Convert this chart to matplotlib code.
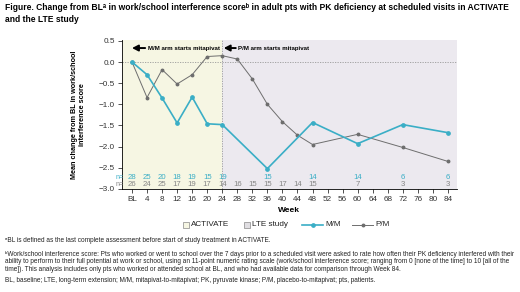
import matplotlib
matplotlib.use("Agg")
import matplotlib.pyplot as plt
from matplotlib.patches import Rectangle
from matplotlib.lines import Line2D

plt.rcParams['font.family'] = ['Liberation Sans', 'DejaVu Sans']

# data
weeks = [0, 4, 8, 12, 16, 20, 24, 28, 32, 36, 40, 44, 48, 52, 56, 60, 64, 68, 72, 76, 80, 84]
week_labels = ['BL'] + [str(w) for w in weeks[1:]]

mm_weeks = [0, 4, 8, 12, 16, 20, 24, 36, 48, 60, 72, 84]
mm_vals = [0, -0.30, -0.85, -1.44, -0.83, -1.46, -1.48, -2.52, -1.43, -1.93, -1.48, -1.67]
mm_n = [28, 25, 20, 18, 19, 15, 19, 15, 14, 14, 6, 6]

pm_weeks = [0, 4, 8, 12, 16, 20, 24, 28, 32, 36, 40, 44, 48, 60, 72, 84]
pm_vals = [0, -0.84, -0.18, -0.52, -0.30, 0.13, 0.15, 0.07, -0.40, -1.00, -1.41, -1.73, -1.95, -1.71, -2.02, -2.35]
pm_n = [26, 24, 25, 17, 19, 17, 14, 16, 15, 15, 17, 14, 15, 7, 3, 3]

c_mm = '#3aaec6'
c_pm = '#6e6e6e'
c_act = '#f6f6e3'
c_lte = '#ece9ef'
W, H = 520, 292

fig = plt.figure(figsize=(5.2, 2.92), dpi=100)
ax = fig.add_axes([0.234, 0.353, 0.644, 0.510])

ax.set_xlim(-2.74, 86.3)
ax.set_ylim(-3.0, 0.52)
ax.axvspan(-2.74, 24, color=c_act, zorder=0, lw=0)
ax.axvspan(24, 86.3, color=c_lte, zorder=0, lw=0)
ax.axhline(0, color='#999999', lw=0.6, ls=(0, (1.5, 1.5)), zorder=1)
ax.axvline(24, color='#999999', lw=0.6, ls=(0, (1.5, 1.5)), zorder=1)

ax.plot(pm_weeks, pm_vals, color=c_pm, lw=0.7, marker='o', ms=1.8, zorder=3)
ax.plot(mm_weeks, mm_vals, color=c_mm, lw=1.2, marker='o', ms=2.4, zorder=4)

# n at each visit
for w, n in zip(mm_weeks, mm_n):
    ax.text(w, -2.72, str(n), color=c_mm, fontsize=5.6, ha='center', va='center')
for w, n in zip(pm_weeks, pm_n):
    ax.text(w, -2.90, str(n), color='#858585', fontsize=5.6, ha='center', va='center')
ax.text(-3.4, -2.72, 'n=', color=c_mm, fontsize=5, ha='center', va='center', clip_on=False)
ax.text(-3.4, -2.90, 'n=', color='#858585', fontsize=5, ha='center', va='center', clip_on=False)

# arm start annotations
for x0, x1, txt in [(0, 3.5, 'M/M arm starts mitapivat'), (24.4, 27.6, 'P/M arm starts mitapivat')]:
    ax.annotate('', xy=(x0, 0.33), xytext=(x1, 0.33),
                arrowprops=dict(arrowstyle='-|>,head_length=0.35,head_width=0.18', lw=1.4, color='k',
                                shrinkA=0, shrinkB=0))
    ax.text(x1 + 0.7, 0.33, txt, fontsize=4.4, fontweight='bold', ha='left', va='center')

ax.set_xticks(weeks)
ax.set_xticklabels(week_labels)
ax.set_yticks([0.5, 0.0, -0.5, -1.0, -1.5, -2.0, -2.5, -3.0])
ax.tick_params(labelsize=5.9, length=3, width=0.6, colors='#333333', pad=2)
for s in ['top', 'right']:
    ax.spines[s].set_visible(False)
for s in ['left', 'bottom']:
    ax.spines[s].set_linewidth(0.6)
ax.set_xlabel('Week', fontsize=6, fontweight='bold', labelpad=3)
ax.set_ylabel('Mean change from BL in work/school\ninterference score', fontsize=5.2,
              fontweight='bold', labelpad=9, linespacing=1.15)

# legend drawn by hand in figure pixels
ly = 1 - 225 / H
for x, col, lab in [(183, c_act, 'ACTIVATE'), (244, '#e0dee2', 'LTE study')]:
    fig.patches.append(Rectangle((x / W, ly - 3.2 / H), 6.4 / W, 6.4 / H, transform=fig.transFigure,
                                 facecolor=col, edgecolor='#888888', lw=0.5))
    fig.text((x + 8) / W, ly, lab, fontsize=5.9, va='center', color='#222222')
for x, col, lw, ms, lab in [(302, c_mm, 1.2, 2.4, 'M/M'), (352, c_pm, 0.7, 1.8, 'P/M')]:
    fig.lines.append(Line2D([x / W, (x + 21) / W], [ly, ly], transform=fig.transFigure, color=col, lw=lw))
    fig.lines.append(Line2D([(x + 10.5) / W], [ly], transform=fig.transFigure, color=col, marker='o', ms=ms))
    fig.text((x + 23) / W, ly, lab, fontsize=5.9, va='center', color='#222222')

fig.text(0.01, 1 - 7 / H, 'Figure. Change from BL\u1d43 in work/school interference score\u1d47 in adult pts with PK deficiency '
         'at scheduled visits in ACTIVATE', fontsize=6.15, fontweight='bold', va='center')
fig.text(0.01, 1 - 19 / H, 'and the LTE study', fontsize=6.15, fontweight='bold', va='center')

foot = [(240.7, '\u1d43BL is defined as the last complete assessment before start of study treatment in ACTIVATE.'),
        (254.3, '\u1d47Work/school interference score: Pts who worked or went to school over the 7 days prior to a scheduled visit '
                'were asked to rate how often their PK deficiency interfered with their'),
        (261.8, 'ability to perform to their full potential at work or school, using an 11-point numeric rating scale '
                '(work/school interference score; ranging from 0 [none of the time] to 10 [all of the'),
        (269.3, 'time]). This analysis includes only pts who worked or attended school at BL, and who had available data '
                'for comparison through Week 84.'),
        (281.0, 'BL, baseline; LTE, long-term extension; M/M, mitapivat-to-mitapivat; PK, pyruvate kinase; '
                'P/M, placebo-to-mitapivat; pts, patients.')]
for y, t in foot:
    fig.text(0.01, 1 - y / H, t, fontsize=4.7, va='center', color='#222222')

fig.savefig('out.png', dpi=100)
